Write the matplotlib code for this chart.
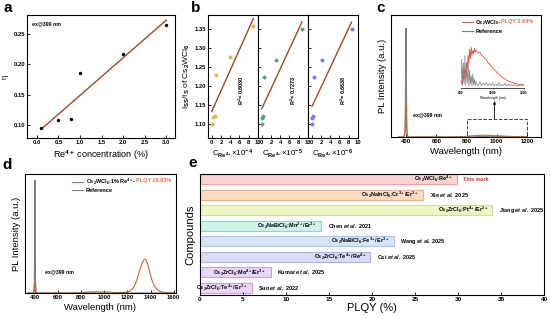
import numpy as np
import matplotlib
matplotlib.use('Agg')
import matplotlib.pyplot as plt
from matplotlib.patches import Rectangle

plt.rcParams['font.family'] = ['Liberation Sans', 'DejaVu Sans']
plt.rcParams['font.weight'] = 'bold'
plt.rcParams['mathtext.fontset'] = 'custom'
plt.rcParams['mathtext.rm'] = 'Liberation Sans:bold'
plt.rcParams['mathtext.it'] = 'Liberation Sans:italic:bold'
plt.rcParams['mathtext.bf'] = 'Liberation Sans:bold'
plt.rcParams['mathtext.default'] = 'rm'
plt.rcParams['axes.linewidth'] = 0.8

# ---------------- data ----------------
# panel a
conc = [0.1, 0.5, 0.8, 1.0, 2.0, 3.0]
eta = [0.095, 0.108, 0.110, 0.186, 0.217, 0.265]

# panel b (ratio I_SS/I_S vs concentration powers)
b_ratio = [1.100, 1.118, 1.121, 1.228, 1.277, 1.357]
b_x1 = [0.01, 0.25, 0.64, 1.0, 4.0, 9.0]
b_ratio2 = [1.099, 1.115, 1.120, 1.223, 1.268, 1.349]
b_x2 = [0.01, 0.13, 0.34, 0.56, 3.0, 8.7]
b_x3 = [0.10, 0.13, 0.20, 0.50, 2.3, 8.6]
b_r2 = ['0.8030', '0.7273', '0.6638']
b_units = ['4', '5', '6']

# panel c main spectra
wl_c = [350, 386, 392, 395, 397, 399, 401, 403, 406, 412, 700, 800, 830, 870,
        900, 950, 1000, 1050, 1100, 1150, 1200]
ref_c = [0, 0, 0.05, 0.30, 0.75, 1.00, 0.75, 0.30, 0.05, 0, 0, 0.005, 0.01,
         0.006, 0.004, 0.004, 0.003, 0.003, 0.002, 0.002, 0.002]
smp_c = [0, 0, 0.02, 0.09, 0.23, 0.31, 0.23, 0.09, 0.02, 0, 0, 0.003, 0.008,
         0.014, 0.016, 0.014, 0.011, 0.008, 0.005, 0.003, 0.002]

# panel c inset spectra (800-1200 nm)
wl_in = [800, 805, 810, 815, 820, 825, 830, 835, 840, 845, 850, 855, 860, 865,
         870, 875, 880, 885, 890, 895, 900, 910, 920, 930, 940, 950, 960, 970,
         980, 990, 1000, 1010, 1020, 1030, 1040, 1050, 1060, 1070, 1080, 1090,
         1100, 1110, 1120, 1130, 1140, 1150, 1160, 1170, 1180, 1190, 1200]
smp_in = [0.10, 0.18, 0.12, 0.30, 0.22, 0.45, 0.35, 0.62, 0.48, 0.80, 0.60,
          0.95, 0.72, 1.00, 0.80, 0.92, 0.85, 0.98, 0.88, 0.93, 0.90, 0.86,
          0.88, 0.80, 0.78, 0.72, 0.70, 0.62, 0.60, 0.54, 0.50, 0.45, 0.42,
          0.37, 0.34, 0.30, 0.27, 0.24, 0.22, 0.19, 0.17, 0.16, 0.14, 0.13,
          0.12, 0.11, 0.10, 0.09, 0.09, 0.08, 0.08]
ref_in = [0.10, 0.70, 0.05, 0.62, 0.10, 0.80, 0.06, 0.50, 0.12, 0.66, 0.05,
          0.45, 0.10, 0.30, 0.05, 0.35, 0.08, 0.22, 0.05, 0.18, 0.10, 0.06,
          0.16, 0.05, 0.12, 0.07, 0.14, 0.05, 0.11, 0.06, 0.12, 0.05, 0.10,
          0.06, 0.13, 0.05, 0.09, 0.06, 0.11, 0.05, 0.10, 0.06, 0.08, 0.05,
          0.09, 0.05, 0.07, 0.05, 0.08, 0.05, 0.06]

# panel d spectra
wl_d = [340, 388, 394, 397, 399, 401, 404, 410, 700, 800, 900, 1000, 1100,
        1180, 1220, 1250, 1270, 1290, 1310, 1325, 1340, 1350, 1360, 1375,
        1390, 1410, 1430, 1450, 1480, 1520, 1600]
ref_d = [0, 0, 0.10, 0.60, 1.00, 0.60, 0.10, 0, 0, 0, 0, 0, 0, 0, 0, 0, 0,
         0, 0, 0, 0, 0, 0, 0, 0, 0, 0, 0, 0, 0, 0]
smp_d = [0, 0, 0.01, 0.05, 0.08, 0.05, 0.01, 0, 0, 0.004, 0.010, 0.009,
         0.004, 0.006, 0.015, 0.045, 0.085, 0.145, 0.215, 0.260, 0.293,
         0.300, 0.292, 0.255, 0.195, 0.120, 0.068, 0.038, 0.015, 0.005, 0]

# panel e
compounds = ['Cs$_2$WCl$_6$:Re$^{4+}$',
             'Cs$_2$NaInCl$_6$:Cr$^{3+}$/Er$^{3+}$',
             'Cs$_2$ZrCl$_6$:Pt$^{4+}$/Er$^{3+}$',
             'Cs$_2$NaBiCl$_6$:Mn$^{2+}$/Er$^{3+}$',
             'Cs$_2$NaBiCl$_6$:Fe$^{3+}$/Er$^{3+}$',
             'Cs$_2$ZrCl$_6$:Te$^{4+}$/Re$^{4+}$',
             'Cs$_2$ZrCl$_6$:Mo$^{4+}$/Er$^{3+}$',
             'Cs$_2$ZrCl$_6$:Te$^{4+}$/Er$^{3+}$']
refs = ['This work', 'Xie $\\mathit{et\\ al.}$ 2025', 'Jiang $\\mathit{et\\ al.}$ 2025',
        'Chen $\\mathit{et\\ al.}$ 2021', 'Wang $\\mathit{et\\ al.}$ 2025',
        'Cai $\\mathit{et\\ al.}$ 2025', 'Kumar $\\mathit{et\\ al.}$ 2025',
        'Sun $\\mathit{et\\ al.}$ 2022']
plqy = [29.83, 25.9, 34.0, 14.1, 22.5, 19.8, 8.2, 6.0]

fills = ['#fad4d4', '#fbdcc2', '#eef6c8', '#d0f2e8', '#d6e6f8', '#dcdcf8',
         '#e6d6f8', '#ecd8f6']
edges = ['#f0a4a4', '#eab486', '#d2e28c', '#8fd8c0', '#a6c6ee', '#b0b0ee',
         '#c2a2ee', '#cca2ea']

fit_color = '#9c4a2a'
W, H = 550, 319


def box(l, r, t, b):
    return [l / W, 1 - b / H, (r - l) / W, (b - t) / H]


def style(ax, fs=4.2):
    ax.tick_params(direction='in', length=2, width=0.6, labelsize=fs, pad=1.5)


fig = plt.figure(figsize=(5.5, 3.19), dpi=100)

# ---------------- panel a ----------------
ax = fig.add_axes(box(27, 175, 15, 138))
ax.scatter(conc, eta, s=6, color='black', zorder=3, linewidths=0)
k, b0 = np.polyfit(conc, eta, 1)
xx = np.array([min(conc), max(conc)])
ax.plot(xx, k * xx + b0, color=fit_color, lw=1.0)
ax.set_xlim(-0.23, 3.2)
ax.set_ylim(0.079, 0.281)
ax.set_xticks(np.arange(0, 3.01, 0.5))
ax.set_yticks([0.10, 0.15, 0.20, 0.25])
style(ax)
ax.set_xlabel('Re$^{4+}$ concentration (%)', fontsize=6.5, labelpad=2)
ax.set_ylabel('η', fontsize=5.5, labelpad=3)
ax.text(0.035, 0.93, 'ex@399 nm', transform=ax.transAxes, fontsize=3.8,
        va='center')

# ---------------- panel b ----------------
bcols = ['#dcbc48', '#579c82', '#7c7ce8']
bmark = ['o', 'D', 'o']
bxs = [b_x1, b_x2, b_x3]
bys = [b_ratio, b_ratio2, b_ratio2]
lefts = [208, 258, 308]
for i in range(3):
    axb = fig.add_axes(box(lefts[i], lefts[i] + 50, 15, 138))
    axb.scatter(bxs[i], bys[i], s=8 if bmark[i] == 'o' else 6, marker=bmark[i],
                color=bcols[i], zorder=3, linewidths=0)
    kk, bb = np.polyfit(bxs[i], bys[i], 1)
    xx = np.array([min(bxs[i]), max(bxs[i])])
    axb.plot(xx, kk * xx + bb, color=fit_color, lw=1.0)
    axb.set_xlim(-0.8, 10)
    axb.set_ylim(1.063, 1.387)
    axb.set_xticks([0, 2, 4, 6, 8, 10])
    axb.set_yticks([1.10, 1.15, 1.20, 1.25, 1.30, 1.35])
    style(axb)
    if i > 0:
        axb.tick_params(labelleft=False)
    else:
        axb.set_ylabel('I$_{SS}$/I$_{S}$ of Cs$_2$WCl$_6$', fontsize=6, labelpad=2)
    axb.set_xlabel('C$_{Re^{4+}}$×10$^{-%s}$' % b_units[i], fontsize=5.8, labelpad=2)
    axb.text(6.3 if i == 0 else 6.8, 1.19, 'R$^2$= ' + b_r2[i], rotation=90,
             fontsize=4, ha='center', va='center')

# ---------------- panel c ----------------
axc = fig.add_axes(box(391, 541, 15, 137))
l_r, = axc.plot(wl_c, ref_c, color='#7f7f7f', lw=0.8)
l_s, = axc.plot(wl_c, smp_c, color='#b86e3c', lw=0.8)
axc.set_xlim(300, 1293)
axc.set_ylim(0, 1.12)
axc.set_xticks([400, 600, 800, 1000, 1200])
axc.set_yticks([])
style(axc)
axc.set_xlabel('Wavelength (nm)', fontsize=6.8, labelpad=2)
axc.set_ylabel('PL Intensity (a.u.)', fontsize=6.8, labelpad=3)
axc.text(446, 0.20, 'ex@399 nm', fontsize=3.8, va='center')
axc.add_patch(Rectangle((800, 0.0), 400, 0.165, fill=False, ls='--', lw=0.7,
                        ec='#444444'))
axc.annotate('', xy=(985, 0.33), xytext=(985, 0.165),
             arrowprops=dict(arrowstyle='-|>', color='black', lw=0.6,
                             mutation_scale=4, shrinkA=0, shrinkB=0))
leg = axc.legend([l_s, l_r], ['Cs$_2$WCl$_6$-', 'Reference'], loc='upper left',
                 bbox_to_anchor=(0.47, 0.975), frameon=False, fontsize=4.0,
                 handlelength=2.0, handletextpad=0.5, borderpad=0,
                 borderaxespad=0, labelspacing=0.3)

axi = fig.add_axes(box(461, 524, 44, 88))
axi.plot(wl_in, ref_in, color='#808080', lw=0.5)
axi.plot(wl_in, smp_in, color='#d9563a', lw=0.6)
axi.set_xlim(800, 1200)
axi.set_ylim(0, 1.08)
axi.set_xticks([800, 1000, 1200])
axi.set_yticks([])
axi.tick_params(labelsize=2.4, length=1, width=0.4, pad=0.8)
for s in ['top', 'right', 'left']:
    axi.spines[s].set_visible(False)
axi.spines['bottom'].set_linewidth(0.5)
axi.patch.set_alpha(0)
axi.set_xlabel('Wavelength (nm)', fontsize=2.4, labelpad=0.8)

# ---------------- panel d ----------------
axd = fig.add_axes(box(25, 176, 174, 293))
l_r, = axd.plot(wl_d, ref_d, color='#7f7f7f', lw=0.8)
l_s, = axd.plot(wl_d, smp_d, color='#b86e3c', lw=0.8)
axd.set_xlim(313, 1620)
axd.set_ylim(0, 1.055)
axd.set_xticks(np.arange(400, 1601, 200))
axd.set_yticks([])
style(axd)
axd.set_xlabel('Wavelength (nm)', fontsize=6.8, labelpad=2)
axd.set_ylabel('PL Intensity (a.u.)', fontsize=6.8, labelpad=3)
axd.text(487, 0.187, 'ex@399 nm', fontsize=3.8, va='center')
legd = axd.legend([l_s, l_r], ['Cs$_2$WCl$_6$:1% Re$^{4+}$-', 'Reference'],
                  loc='upper left', bbox_to_anchor=(0.31, 0.98), frameon=False,
                  fontsize=4.0, handlelength=2.0, handletextpad=0.5, borderpad=0,
                  borderaxespad=0, labelspacing=0.3)

# ---------------- panel e ----------------
axe = fig.add_axes(box(200, 544, 174, 295))
ypos = np.arange(len(plqy))[::-1]
axe.barh(ypos, plqy, height=0.64, color=fills, edgecolor=edges, linewidth=0.8)
for yv, v, cname, rname in zip(ypos, plqy, compounds, refs):
    axe.text(v - 0.5, yv, cname, ha='right', va='center', fontsize=4.0)
    axe.text(v + 0.8, yv, rname, ha='left', va='center', fontsize=4.0,
             color='#d03a2a' if rname == 'This work' else 'black')
axe.set_xlim(0, 40)
axe.set_ylim(-0.45, 7.33)
axe.set_xticks(np.arange(0, 41, 5))
axe.set_yticks([])
style(axe, 4.6)
axe.set_xlabel('PLQY (%)', fontsize=8, labelpad=1)
axe.set_ylabel('Compounds', fontsize=8, labelpad=3)

# panel letters
fig.text(3 / W, 1 - 1 / H, 'a', fontsize=11, va='top')
fig.text(191 / W, 1 - 1 / H, 'b', fontsize=11, va='top')
fig.text(376 / W, 1 - 1 / H, 'c', fontsize=11, va='top')
fig.text(2 / W, 1 - 158 / H, 'd', fontsize=11, va='top')
fig.text(188 / W, 1 - 156 / H, 'e', fontsize=11, va='top')

# coloured PLQY parts appended to the legend labels
fig.canvas.draw()
rend = fig.canvas.get_renderer()
for lg, extra in [(leg, 'PLQY 2.64%'), (legd, 'PLQY 29.83%')]:
    bbx = lg.get_texts()[0].get_window_extent(rend)
    fig.text(bbx.x1 / fig.bbox.width, (bbx.y0 + bbx.y1) / 2 / fig.bbox.height + 0.002,
             extra, fontsize=4.0, color='#e0704e', ha='left', va='center')

fig.savefig('out.png', dpi=100)
